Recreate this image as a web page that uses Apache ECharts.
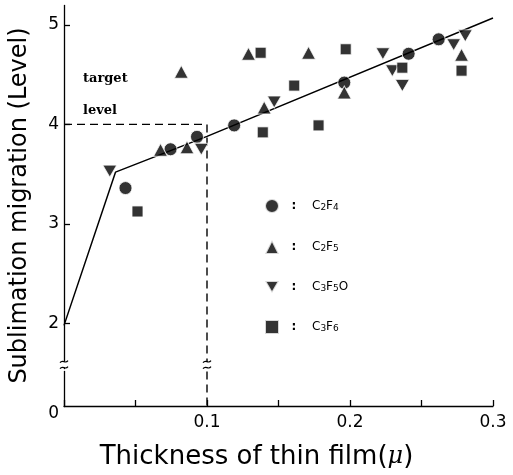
<!DOCTYPE html>
<html>
<head>
<meta charset="utf-8">
<script src="https://cdn.jsdelivr.net/npm/echarts@6/dist/echarts.min.js"></script>
<style>
  html, body { margin: 0; padding: 0; background: #fff; }
  #chart { width: 513px; height: 475px; }
</style>
</head>
<body>
<div id="chart"></div>
<script>
// Thickness of the fluorocarbon thin film (μ) vs. sublimation migration level
const seriesNames = ['C₂F₄', 'C₂F₅', 'C₃F₅O', 'C₃F₆'];

const c2f4 = [[0.043, 3.36], [0.0745, 3.75], [0.093, 3.875], [0.119, 3.99],
              [0.196, 4.42], [0.241, 4.71], [0.262, 4.855]];
const c2f5 = [[0.0675, 3.745], [0.082, 4.53], [0.086, 3.77], [0.129, 4.71],
              [0.140, 4.17], [0.171, 4.72], [0.196, 4.32], [0.278, 4.70]];
const c3f5o = [[0.032, 3.53], [0.096, 3.75], [0.147, 4.225], [0.223, 4.71],
               [0.2296, 4.54], [0.2366, 4.39], [0.2725, 4.80], [0.2806, 4.89]];
const c3f6 = [[0.0514, 3.125], [0.1375, 4.72], [0.139, 3.92], [0.161, 4.39],
              [0.178, 3.99], [0.197, 4.755], [0.2366, 4.57], [0.278, 4.54]];

// fitted trend line
const trend = [[0, 1.98], [0.036, 3.52], [0.1, 3.88], [0.3, 5.07]];
// target level guide (level 4 reached at 0.1 μ)
const targetGuide = [[0, 4], [0.1, 4], [0.1, 0]];

const yLabelValues = [0, 2, 3, 4, 5];
const yTickValues = [2, 3, 4, 5];
const xTicks = [0.1, 0.2, 0.3];
const yBreak = { start: 0.35, end: 1.55 };

const downTriangle = 'path://M0,0L14,0L7,12Z';
const black = '#000';
const halo = { color: black, borderColor: '#fff', borderWidth: 1 };

// legend text: formula with lowered, smaller digits
const subDigits = { '₂': '2', '₃': '3', '₄': '4', '₅': '5', '₆': '6' };
function formulaRich(name) {
  let out = '';
  for (const ch of name) {
    out += subDigits[ch] ? '{s|' + subDigits[ch] + '}' : '{n|' + ch + '}';
  }
  return out;
}

const chart = echarts.init(document.getElementById('chart'), null, { renderer: 'canvas' });

chart.setOption({
  backgroundColor: '#fff',
  animation: false,
  grid: { left: 61, right: 20, top: 5, bottom: 67 },
  legend: {
    orient: 'vertical',
    left: 259,
    top: 193,
    padding: 5,
    itemWidth: 14,
    itemHeight: 14,
    itemGap: 25,
    selectedMode: false,
    data: seriesNames,
    formatter: name => '{c|:}{g|}' + formulaRich(name),
    textStyle: {
      color: black,
      fontFamily: 'DejaVu Sans',
      fontSize: 12,
      rich: {
        c: { width: 20, align: 'center', fontSize: 12, fontWeight: 'bold', color: black },
        g: { width: 8 },
        n: { fontSize: 12, color: black, fontFamily: 'DejaVu Sans' },
        s: { fontSize: 9, color: black, fontFamily: 'DejaVu Sans', padding: [4, 0, 0, 0] }
      }
    }
  },
  xAxis: {
    type: 'value',
    min: 0,
    max: 0.3,
    interval: 0.05,
    name: 'Thickness of thin film({mu|μ})',
    nameLocation: 'middle',
    nameGap: 38,
    nameTextStyle: {
      fontFamily: 'DejaVu Sans',
      fontSize: 26,
      color: black,
      padding: [0, 44, 0, 0],
      rich: {
        mu: { fontFamily: 'DejaVu Serif', fontStyle: 'italic', fontSize: 24, color: black }
      }
    },
    splitLine: { show: false },
    axisLine: { lineStyle: { color: black, width: 1.3 } },
    axisTick: { inside: true, length: 6, lineStyle: { color: black, width: 1.3 } },
    axisLabel: {
      margin: 8,
      color: black,
      fontFamily: 'DejaVu Sans',
      fontSize: 17,
      formatter: v => {
        const hit = xTicks.find(t => Math.abs(t - v) < 1e-9);
        return hit === undefined ? '' : hit.toFixed(1);
      }
    }
  },
  yAxis: {
    type: 'value',
    min: 0,
    max: 5.2,
    interval: 1,
    breaks: [{ start: yBreak.start, end: yBreak.end, gap: '0.75%' }],
    breakArea: { show: false },
    name: 'Sublimation migration (Level)',
    nameLocation: 'middle',
    nameGap: 32,
    nameTextStyle: { fontFamily: 'DejaVu Sans', fontSize: 24, color: black },
    splitLine: { show: false },
    axisLine: { lineStyle: { color: black, width: 1.3 } },
    axisTick: {
      inside: true, length: 6, customValues: yTickValues,
      lineStyle: { color: black, width: 1.3 }
    },
    axisLabel: {
      margin: 5,
      color: black,
      fontFamily: 'DejaVu Sans',
      fontSize: 17,
      customValues: yLabelValues,
      formatter: v => (Math.abs(v) < 1e-9 ? '{z|0}' : String(Math.round(v))),
      rich: { z: { padding: [16, 0, 0, 0], fontFamily: 'DejaVu Sans', fontSize: 17, color: black } }
    }
  },
  graphic: [
    { type: 'text', left: 83, top: 72,
      style: { text: 'target', font: 'bold 13px "DejaVu Serif"', fill: black } },
    { type: 'text', left: 83, top: 104,
      style: { text: 'level', font: 'bold 13px "DejaVu Serif"', fill: black } }
  ],
  series: [
    {
      name: 'guide', type: 'line', data: targetGuide, symbol: 'none', silent: true, z: 1,
      lineStyle: { color: black, width: 1.4, type: [8, 5] }
    },
    {
      name: 'trend', type: 'line', data: trend, symbol: 'none', silent: true, z: 1,
      lineStyle: { color: black, width: 1.5 }
    },
    {
      // break symbols on the y axis and on the 0.1 guide
      name: 'breakMarks', type: 'custom', silent: true, z: 5,
      data: [[0], [0.1]],
      renderItem: (params, api) => {
        const x = api.coord([api.value(0), yBreak.start])[0];
        const y1 = api.coord([0, yBreak.start])[1];
        const y2 = api.coord([0, yBreak.end])[1];
        const yc = (y1 + y2) / 2 - 5;
        const curve = dy => ({
          type: 'bezierCurve',
          shape: { x1: x - 4, y1: yc + dy + 1, cpx1: x - 1, cpy1: yc + dy - 3,
                   cpx2: x + 1, cpy2: yc + dy + 3, x2: x + 4, y2: yc + dy - 1 },
          style: { stroke: black, lineWidth: 1.2, fill: null }
        });
        return {
          type: 'group',
          children: [
            { type: 'rect', shape: { x: x - 3, y: yc - 3, width: 6, height: 6 },
              style: { fill: '#fff' } },
            curve(-3), curve(3)
          ]
        };
      }
    },
    { name: seriesNames[0], type: 'scatter', data: c2f4, symbol: 'circle', symbolSize: 13, z: 3, itemStyle: halo },
    { name: seriesNames[1], type: 'scatter', data: c2f5, symbol: 'triangle', symbolSize: [14, 13], z: 3, itemStyle: halo },
    { name: seriesNames[2], type: 'scatter', data: c3f5o, symbol: downTriangle, symbolSize: [14, 12], z: 3, itemStyle: halo },
    { name: seriesNames[3], type: 'scatter', data: c3f6, symbol: 'rect', symbolSize: 11, z: 3, itemStyle: halo }
  ]
});
</script>
</body>
</html>
